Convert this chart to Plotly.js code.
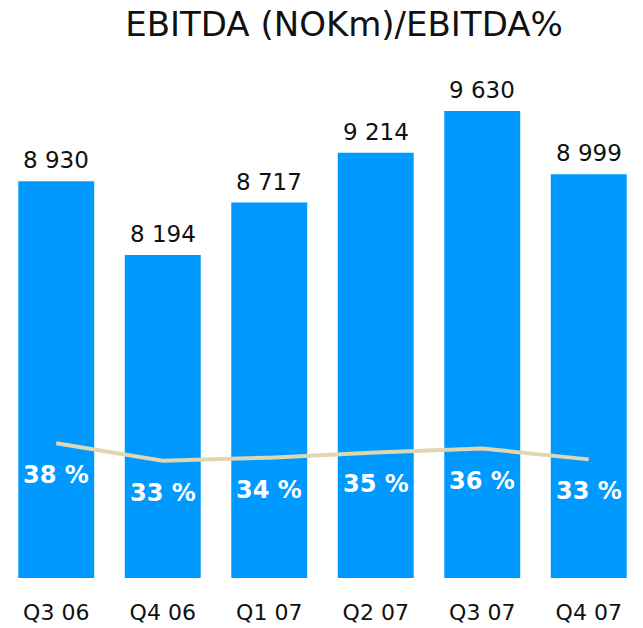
<!DOCTYPE html>
<html>
<head>
<meta charset="utf-8">
<script src="https://cdn.plot.ly/plotly-3.0.1.min.js"></script>
<style>html,body{margin:0;padding:0;background:#fff;}#chart{width:643px;height:628px;}</style>
</head>
<body>
<div id="chart"></div>
<script>
const quarters = ["Q3 06", "Q4 06", "Q1 07", "Q2 07", "Q3 07", "Q4 07"];
const ebitda = [8930, 8194, 8717, 9214, 9630, 8999];
const ebitdaPct = [37.9, 32.9, 33.8, 35.3, 36.4, 33.3];

function fmtThousands(v) {
  const s = String(v);
  return s.length > 3 ? s.slice(0, s.length - 3) + " " + s.slice(-3) : s;
}

const barTrace = {
  type: "bar",
  x: quarters,
  y: ebitda,
  marker: {color: "#0099ff"},
  hoverinfo: "skip"
};

const lineTrace = {
  type: "scatter",
  mode: "lines",
  x: quarters,
  y: ebitdaPct,
  yaxis: "y2",
  line: {color: "#dfd6b2", width: 4},
  hoverinfo: "skip"
};

const valueAnnotations = quarters.map((q, i) => ({
  x: q,
  y: ebitda[i],
  xref: "x",
  yref: "y",
  text: fmtThousands(ebitda[i]),
  showarrow: false,
  yanchor: "middle",
  yshift: 21,
  font: {family: "DejaVu Sans", size: 23, color: "#111111"}
}));

const pctAnnotations = quarters.map((q, i) => ({
  x: q,
  y: ebitdaPct[i],
  xref: "x",
  yref: "y2",
  text: Math.round(ebitdaPct[i]) + " %",
  showarrow: false,
  yanchor: "middle",
  yshift: -32,
  font: {family: "DejaVu Sans", size: 24, color: "#ffffff", weight: "bold"}
}));

const layout = {
  width: 643,
  height: 628,
  margin: {l: 3, r: 1, t: 60, b: 50},
  paper_bgcolor: "#ffffff",
  plot_bgcolor: "#ffffff",
  showlegend: false,
  bargap: 0.287,
  title: {
    text: "EBITDA (NOKm)/EBITDA%",
    font: {family: "DejaVu Sans", size: 34, color: "#111111"},
    x: 0.535, xanchor: "center", xref: "container",
    y: 0.962, yanchor: "middle", yref: "container"
  },
  xaxis: {
    type: "category",
    showgrid: false, zeroline: false, showline: false,
    ticks: "",
    tickfont: {family: "DejaVu Sans", size: 22, color: "#111111"},
    ticklabelstandoff: 19
  },
  yaxis: {
    range: [4973, 10139],
    visible: false, showgrid: false, zeroline: false
  },
  yaxis2: {
    range: [-0.59, 147.4],
    overlaying: "y",
    visible: false, showgrid: false, zeroline: false
  },
  annotations: valueAnnotations.concat(pctAnnotations)
};

Plotly.newPlot("chart", [barTrace, lineTrace], layout, {staticPlot: true, displayModeBar: false});
</script>
</body>
</html>
